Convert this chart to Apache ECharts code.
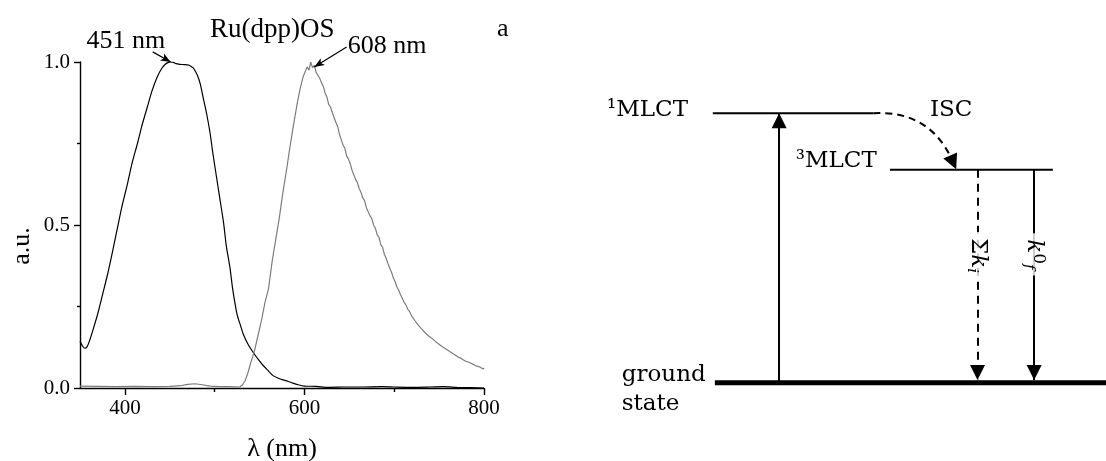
<!DOCTYPE html>
<html>
<head>
<meta charset="utf-8">
<script src="https://cdn.jsdelivr.net/npm/echarts@6/dist/echarts.min.js"></script>
<style>
  html, body { margin: 0; padding: 0; background: #fff; }
  #chart { width: 1106px; height: 461px; }
</style>
</head>
<body>
<div id="chart"></div>
<script>
// ---- Spectra of Ru(dpp)OS: absorption (black) and emission (grey), normalised ----
const compound = 'Ru(dpp)OS';
const panelTag = 'a';
const xTickLabels = [400, 600, 800];
const xMinorTicks = [500, 700];
const absPeak = 451;   // nm
const emPeak = 608;    // nm

const absorption = [
  [350,0.143],[353,0.128],[355.5,0.122],[358,0.127],[361,0.148],[365,0.183],[370,0.23],
  [375,0.285],[381,0.352],[386,0.415],[392,0.495],[397,0.56],[403,0.628],[408,0.69],
  [414,0.75],[419,0.805],[425,0.862],[430,0.91],[436,0.954],[441,0.98],[445,0.993],
  [448,0.998],[451,1.0],[454,0.999],[457,0.995],[461,0.993],[466,0.992],[470,0.991],
  [473,0.988],[476,0.982],[478,0.974],[481,0.958],[484,0.932],[487,0.893],[491,0.842],
  [495,0.78],[498,0.72],[502,0.648],[506,0.577],[510,0.505],[513,0.435],[517,0.37],
  [520,0.305],[525,0.225],[529,0.19],[532,0.164],[537,0.135],[543,0.109],[549,0.086],
  [554,0.069],[560,0.052],[565,0.038],[571,0.03],[576,0.025],[582,0.02],[587,0.015],
  [593,0.01],[600,0.006],[613,0.005],[627,0.002],[645,0.003],[664,0.003],[686,0.004],
  [700,0.003],[719,0.002],[740,0.003],[755,0.004],[770,0.002],[785,0.001],[800,0.0]
];

const emission = [
  [350,0.006],[370,0.005],[390,0.004],[410,0.005],[430,0.004],[450,0.005],[462,0.007],
  [470,0.011],[478,0.013],[486,0.01],[495,0.006],[505,0.004],[515,0.004],[528,0.003],
  [531,0.01],[534,0.023],[537,0.046],[540,0.076],[544,0.11],[548,0.158],[552,0.205],
  [556,0.262],[560,0.305],[564,0.388],[568,0.455],[572,0.522],[576,0.6],[580,0.668],
  [584,0.742],[588,0.81],[592,0.874],[595,0.915],[598,0.95],[600,0.965],[603,0.985],
  [605,0.975],[607,1.0],[609,0.982],[611,0.99],[613,0.968],[615,0.962],[617,0.95],
  [619,0.936],[621,0.925],[623,0.905],[625,0.893],[627,0.87],[629,0.862],[631,0.845],
  [633,0.83],[635,0.815],[637,0.802],[639,0.778],[641,0.762],[643,0.745],[645,0.736],
  [647,0.712],[649,0.702],[651,0.688],[653,0.668],[655,0.662],[657,0.64],[659,0.63],
  [661,0.612],[663,0.6],[665,0.583],[667,0.575],[669,0.553],[671,0.548],[673,0.528],
  [675,0.52],[677,0.5],[679,0.49],[681,0.47],[683,0.463],[685,0.44],[687,0.432],
  [689,0.41],[691,0.398],[693,0.382],[695,0.368],[697,0.355],[699,0.338],[701,0.326],
  [703,0.31],[705,0.3],[707,0.286],[709,0.275],[711,0.263],[713,0.255],[715,0.242],
  [717,0.235],[719,0.223],[721,0.218],[723,0.207],[725,0.203],[727,0.192],[729,0.189],
  [731,0.18],[733,0.178],[735,0.168],[737,0.166],[739,0.158],[741,0.159],[743,0.15],
  [745,0.148],[747,0.14],[749,0.141],[751,0.132],[753,0.13],[755,0.124],[757,0.126],
  [759,0.117],[761,0.116],[763,0.11],[765,0.111],[767,0.103],[769,0.101],[771,0.095],
  [773,0.097],[775,0.09],[777,0.089],[779,0.083],[781,0.085],[783,0.079],[785,0.08],
  [787,0.074],[789,0.075],[791,0.068],[793,0.07],[795,0.065],[797,0.067],[799,0.058],
  [800,0.062]
];

// ---- Energy-level scheme (relative energies, ground state = 0) ----
const levelNames = ['\u00B9MLCT', '\u00B3MLCT', 'ground\nstate'];
const levelEnergy = [100, 79, 0];
const processNames = ['ISC', 'sumK', 'kRad'];

const SERIF = 'Liberation Serif';
const DIAG = 'DejaVu Serif';
const black = '#000';
const noHalo = { textBorderWidth: 0, textBorderColor: 'transparent', textShadowBlur: 0, opacity: 1 };

function txt(size, extra) {
  return Object.assign({ fontFamily: SERIF, fontSize: size, color: black, fontWeight: 'normal' }, noHalo, extra || {});
}
function dtxt(size, extra) {
  return Object.assign({ fontFamily: DIAG, fontSize: size, color: black, fontWeight: 'normal' }, noHalo, extra || {});
}

const [E1, E3, E0] = levelEnergy;
const arrowHead = { symbolSize: [15, 15], symbolOffset: [0, 7.5] };
const fixedGrid = { outerBoundsMode: 'none', containLabel: false };

const option = {
  animation: false,
  backgroundColor: '#fff',
  title: [
    { text: compound, left: 210, top: 16, padding: 0, textStyle: txt(27) },
    { text: panelTag, left: 497, top: 16, padding: 0, textStyle: txt(26) }
  ],
  grid: [
    // spectra
    { left: 80, right: 622, top: 62, bottom: 73, ...fixedGrid },
    // energy scheme
    { left: 600, right: 0, top: 59.4, bottom: 24.4, ...fixedGrid },
    // peak annotations, same x scale as the spectra, taller y range
    { left: 80, right: 622, top: 13.1, bottom: 73, ...fixedGrid }
  ],
  xAxis: [
    {
      gridIndex: 0, type: 'value', min: 350, max: 800, interval: 50, position: 'bottom',
      name: '\u03BB (nm)', nameLocation: 'middle', nameGap: 48, nameTextStyle: txt(26),
      axisLine: { show: true, onZero: false, lineStyle: { color: black, width: 1.4 } },
      axisTick: { show: true, customValues: xTickLabels, length: 7, lineStyle: { color: black, width: 1.4 } },
      axisLabel: { show: true, customValues: xTickLabels, margin: 10, ...txt(21) },
      splitLine: { show: false }
    },
    {
      gridIndex: 0, type: 'value', min: 350, max: 800, interval: 50, position: 'bottom',
      axisLine: { show: false, onZero: false },
      axisTick: { show: true, customValues: xMinorTicks, length: 4, lineStyle: { color: black, width: 1.4 } },
      axisLabel: { show: false },
      splitLine: { show: false }
    },
    { gridIndex: 1, type: 'value', min: 0, max: 100, show: false },
    { gridIndex: 2, type: 'value', min: 350, max: 800, show: false }
  ],
  yAxis: [
    {
      gridIndex: 0, type: 'value', min: 0, max: 1, interval: 0.5,
      name: 'a.u.', nameLocation: 'middle', nameGap: 45,
      nameTextStyle: txt(26, { padding: [0, 42, 0, 0] }),
      axisLine: { show: true, onZero: false, lineStyle: { color: black, width: 1.4 } },
      axisTick: { show: true, length: 6, lineStyle: { color: black, width: 1.4 } },
      minorTick: { show: true, splitNumber: 2, length: 3, lineStyle: { color: black, width: 1.4 } },
      axisLabel: { margin: 10, formatter: v => v.toFixed(1), ...txt(21) },
      splitLine: { show: false }
    },
    { gridIndex: 1, type: 'value', min: -20, max: 120, show: false },
    { gridIndex: 2, type: 'value', min: 0, max: 1.15, show: false }
  ],
  series: [
    {
      name: 'absorption', type: 'line', xAxisIndex: 0, yAxisIndex: 0,
      data: absorption, showSymbol: false, smooth: 0.25, silent: true,
      lineStyle: { color: black, width: 1.2 }
    },
    {
      name: 'emission', type: 'line', xAxisIndex: 0, yAxisIndex: 0,
      data: emission, showSymbol: false, silent: true,
      lineStyle: { color: '#7c7c7c', width: 1.2 }
    },
    // peak wavelength labels with arrows
    {
      type: 'scatter', xAxisIndex: 3, yAxisIndex: 2, silent: true, symbolSize: 0, clip: false,
      itemStyle: { color: black },
      label: { show: true, position: 'inside', formatter: '{b}', ...txt(26) },
      data: [
        { name: absPeak + ' nm', value: [401, 1.063] },
        { name: emPeak + ' nm', value: [692, 1.05] }
      ],
      markLine: {
        silent: true, symbol: ['none', 'arrow'], symbolSize: [6, 10],
        lineStyle: { color: black, width: 1.2, type: 'solid' },
        label: { show: false },
        data: [
          [{ coord: [431, 1.031] }, { coord: [absPeak, 1.0] }],
          [{ coord: [647, 1.046] }, { coord: [emPeak + 3, 0.985] }]
        ]
      }
    },
    // energy levels
    {
      type: 'line', xAxisIndex: 2, yAxisIndex: 1, silent: true, showSymbol: false,
      data: [[22.3, E1], [54, E1]], lineStyle: { color: black, width: 2 }
    },
    {
      type: 'line', xAxisIndex: 2, yAxisIndex: 1, silent: true, showSymbol: false,
      data: [[57.3, E3], [89.5, E3]], lineStyle: { color: black, width: 2 }
    },
    {
      type: 'line', xAxisIndex: 2, yAxisIndex: 1, silent: true, showSymbol: false,
      data: [[22.7, E0], [100, E0]], lineStyle: { color: black, width: 5 }, z: 3,
      markLine: {
        silent: true, symbol: ['none', 'triangle'], symbolSize: [15, 15],
        label: { show: false },
        lineStyle: { color: black, width: 2, type: 'solid' },
        data: [
          // excitation
          [{ coord: [35.4, E0] }, { coord: [35.4, E1], ...arrowHead }],
          // non-radiative decay
          [{ coord: [74.6, E3], lineStyle: { type: [8, 6], width: 2, color: black } },
           { coord: [74.6, E0 + 1], ...arrowHead }],
          // radiative decay
          [{ coord: [85.8, E3] }, { coord: [85.8, E0 + 1], ...arrowHead }]
        ]
      }
    },
    // intersystem crossing, curved dashed arrow
    {
      type: 'lines', coordinateSystem: 'cartesian2d', xAxisIndex: 2, yAxisIndex: 1, silent: true,
      symbol: ['none', 'triangle'], symbolSize: 15,
      lineStyle: { color: black, width: 2, type: [7, 5], curveness: 0.35, opacity: 1 },
      data: [{ coords: [[54, E1], [69.8, E3 + 2.8]] }]
    },
    // level and process labels
    {
      type: 'scatter', xAxisIndex: 2, yAxisIndex: 1, silent: true, symbolSize: 0, z: 6, clip: false,
      itemStyle: { color: black },
      data: [
        { value: [17.4, E1 + 1.2], label: { position: 'left', distance: 0, formatter: levelNames[0], ...dtxt(23) } },
        { value: [54.7, E3 + 3.2], label: { position: 'left', distance: 0, formatter: levelNames[1], ...dtxt(23) } },
        { value: [4.3, E0 - 2.5], label: { position: 'right', distance: 0, formatter: levelNames[2], lineHeight: 29, ...dtxt(23) } },
        { value: [69.4, E1 + 1.2], label: { position: 'inside', formatter: processNames[0], ...dtxt(23) } },
        {
          value: [74.6, 47.2],
          label: {
            position: 'inside', rotate: -90, backgroundColor: '#fff', padding: [0, 6, 0, 6],
            formatter: '{n|\u03A3}{k|k}{s|i}',
            rich: {
              n: dtxt(23, { lineHeight: 26 }),
              k: dtxt(23, { fontStyle: 'italic', lineHeight: 26 }),
              s: dtxt(15, { fontStyle: 'italic', lineHeight: 15, verticalAlign: 'bottom' })
            }
          }
        },
        {
          value: [85.8, 47.6],
          label: {
            position: 'inside', rotate: -90, backgroundColor: '#fff', padding: [0, 6, 0, 6],
            formatter: '{k|k}{p|0}{s|f}',
            rich: {
              k: dtxt(23, { fontStyle: 'italic', lineHeight: 26 }),
              p: dtxt(17, { lineHeight: 17, verticalAlign: 'top' }),
              s: dtxt(15, { fontStyle: 'italic', lineHeight: 15, verticalAlign: 'bottom' })
            }
          }
        }
      ].map(d => { d.label.show = true; return d; })
    }
  ]
};

const chart = echarts.init(document.getElementById('chart'), null, { renderer: 'canvas' });
chart.setOption(option);
</script>
</body>
</html>
